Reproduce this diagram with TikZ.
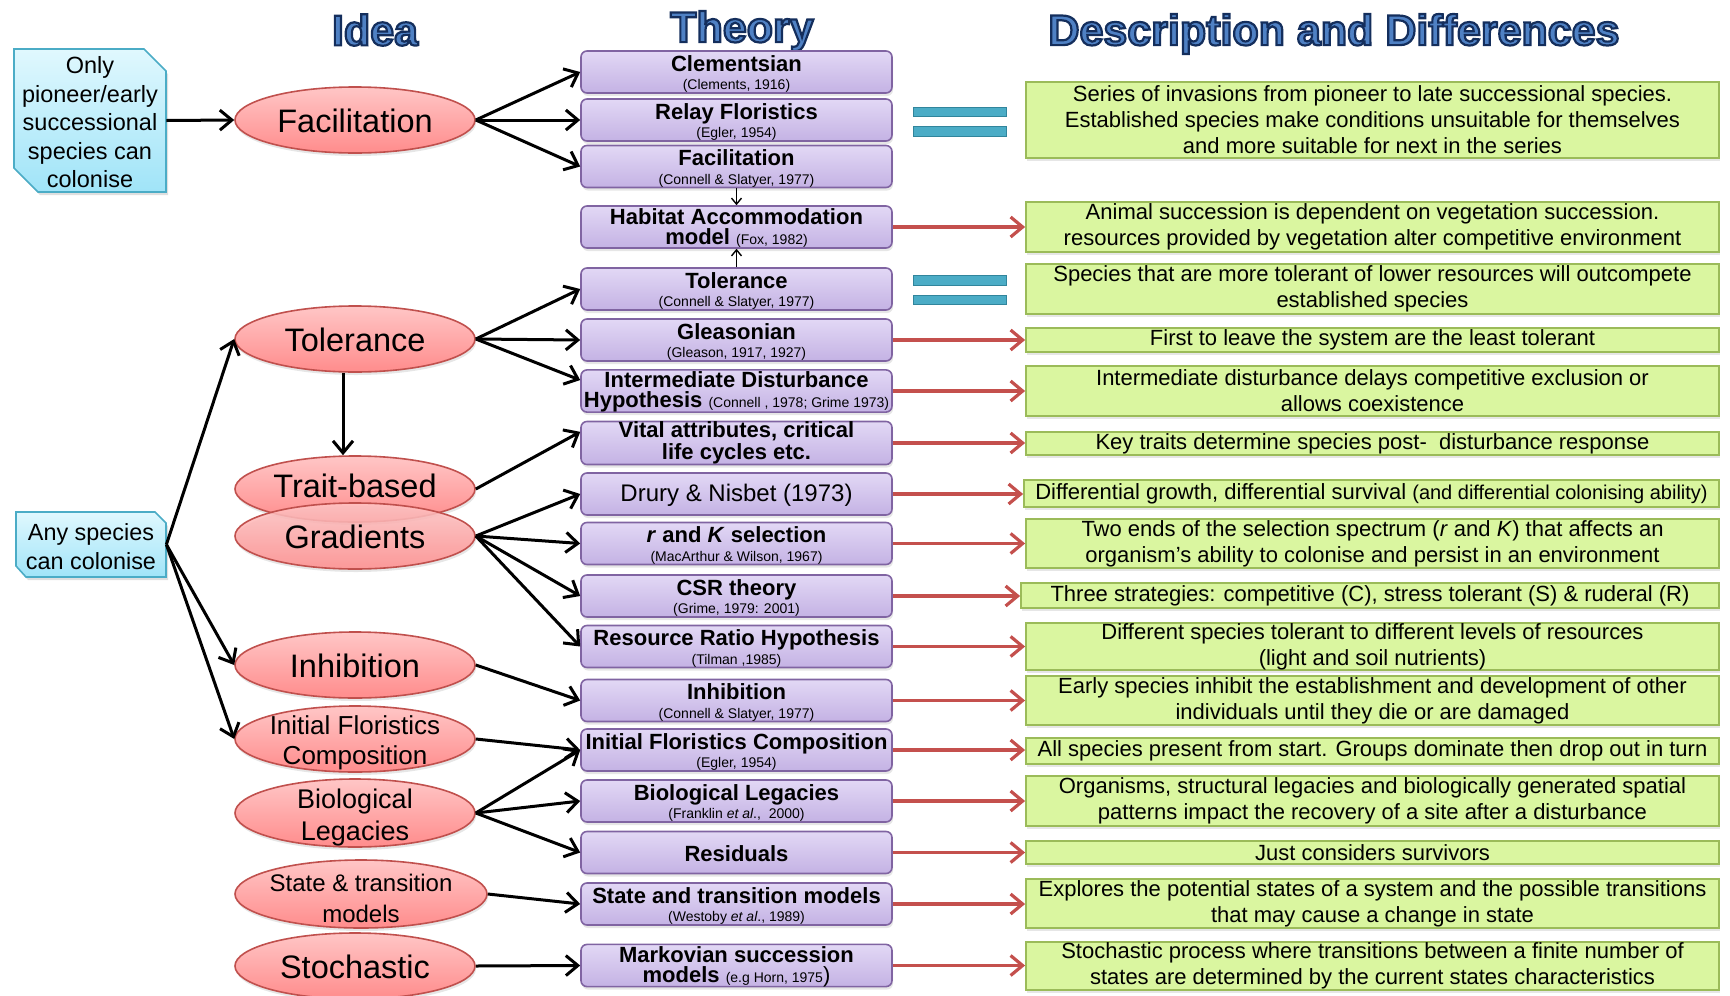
\documentclass[tikz,border=0pt]{standalone}
\usepackage{fontspec}
\setmainfont{Liberation Sans}
\usepackage{xcolor}
\usepackage{tikz}
\usetikzlibrary{arrows.meta, calc, shapes.geometric, shadows}

\definecolor{headblue}{RGB}{79,129,196}
\definecolor{thtop}{RGB}{226,216,245}
\definecolor{thbot}{RGB}{196,178,228}
\definecolor{thedge}{RGB}{128,100,162}
\definecolor{elltop}{RGB}{255,198,198}
\definecolor{ellbot}{RGB}{255,140,140}
\definecolor{elledge}{RGB}{192,80,77}
\definecolor{caltop}{RGB}{224,248,254}
\definecolor{calbot}{RGB}{160,228,248}
\definecolor{caledge}{RGB}{75,172,198}
\definecolor{descfill}{RGB}{218,246,160}
\definecolor{descedge}{RGB}{155,187,89}
\definecolor{eqfill}{RGB}{75,172,198}
\definecolor{eqedge}{RGB}{49,133,156}
\definecolor{redarr}{RGB}{196,80,77}

\newcommand\cit[1]{{\fontsize{7}{9}\selectfont\mdseries #1}}
\newcommand\thy[2]{\rule{0pt}{10pt}#1\\\cit{#2}}
\newcommand\ctr[2][-.42em]{\makebox[0pt]{\raisebox{#1}[0pt][0pt]{\begin{tabular}{@{}c@{}}#2\end{tabular}}}}
\newcommand\headtxt[1]{{\color{headblue}\special{pdf:literal direct 0.08 0.18 0.36 RG 1.1 w 2 Tr}#1\special{pdf:literal direct 0 Tr}}}

\begin{document}
\begin{tikzpicture}[x=0.5pt, y=-0.5pt,
    head/.style={font=\fontsize{21.5}{24}\selectfont\bfseries},
    callout/.style={draw=caledge, line width=0.8pt, top color=caltop, bottom color=calbot, drop shadow={opacity=0.25, shadow xshift=1pt, shadow yshift=-1.5pt}},
    calltext/.style={rectangle, inner sep=0pt},
    idea/.style={ellipse, draw=elledge, line width=0.8pt, top color=elltop, bottom color=ellbot, minimum width=120pt, minimum height=33pt, inner sep=0pt, font=\fontsize{16.25}{19}\selectfont, drop shadow={opacity=0.2, shadow xshift=0.5pt, shadow yshift=-1.5pt}},
    theory/.style={rectangle, rounded corners=3pt, draw=thedge, line width=0.8pt, top color=thtop, bottom color=thbot, minimum width=155.5pt, minimum height=21pt, inner sep=0pt, align=center, font=\fontsize{11}{9.4}\selectfont\bfseries, drop shadow={opacity=0.2, shadow xshift=0.5pt, shadow yshift=-1.5pt}},
    desc/.style={rectangle, draw=descedge, line width=0.9pt, fill=descfill, minimum width=346.5pt, inner sep=0pt, align=center, font=\fontsize{11}{13}\selectfont, drop shadow={opacity=0.2, shadow xshift=0.5pt, shadow yshift=-1.5pt}},
    eqbar/.style={draw=eqedge, line width=0.5pt, fill=eqfill},
    link/.style={line width=1.5pt, -{Straight Barb[length=6pt, width=10pt]}},
    thin link/.style={line width=0.7pt, -{Straight Barb[length=3pt, width=5pt]}},
    result/.style={draw=redarr, line width=1.6pt, -{Straight Barb[length=6pt, width=10pt]}}
]
    \useasboundingbox (0,0) rectangle (1730,996);

    \node[head] (hIdea) at (375,30) {\headtxt{Idea}};
    \node[head] (hTheory) at (742,31) {\headtxt{Theory}};
    \node[head] (hDesc) at (1334,34) {\headtxt{Description and Differences}};

    \draw[callout] (14,49) -- (144,49) -- (166,71) -- (166,192) -- (38,192) -- (14,168) -- cycle;
    \draw[callout] (16,512) -- (155,512) -- (166,523) -- (166,577) -- (26,577) -- (16,566) -- cycle;
    \node[calltext, minimum width=76pt, minimum height=71.5pt, font=\fontsize{11.75}{14.3}\selectfont] (pioneer) at (90,120.5) {\ctr[-.45em]{Only\\pioneer/early\\successional\\species can\\colonise}};
    \node[calltext, minimum width=75pt, minimum height=32.5pt, font=\fontsize{11.7}{14.3}\selectfont] (anysp) at (91,544.5) {\ctr[-.45em]{Any species\\can colonise}};

    \node[idea] (facil) at (355,120) {\ctr{Facilitation}};
    \node[idea] (toler) at (355,339) {\ctr{Tolerance}};
    \node[idea] (trait) at (355,489) {\ctr[-.3em]{Trait-based}};
    \node[idea, fill opacity=0.85, text opacity=1] (grad) at (355,536) {\ctr{Gradients}};
    \node[idea] (inhib) at (355,665) {\ctr{Inhibition}};
    \node[idea, font=\fontsize{13}{15}\selectfont] (ifc) at (355,739) {\ctr[-.4em]{Initial Floristics\\Composition}};
    \node[idea, minimum height=34pt, font=\fontsize{13.5}{16}\selectfont] (biol) at (355,813) {\ctr[-.45em]{Biological\\Legacies}};
    \node[idea, minimum width=126pt, minimum height=34pt, font=\fontsize{12}{15.5}\selectfont] (state) at (361,894) {\ctr[-.55em]{State \& transition\\models}};
    \node[idea] (stoch) at (355,966) {\ctr{Stochastic}};

    \node[theory] (tClem) at (736.5,72) {\thy{Clementsian}{(Clements, 1916)}};
    \node[theory] (tRelay) at (736.5,120) {\thy{Relay Floristics}{(Egler, 1954)}};
    \node[theory] (tFacil) at (736.5,166.5) {\thy{Facilitation}{(Connell \& Slatyer, 1977)}};
    \node[theory] (tHab) at (736.5,227) {\rule{0pt}{8.8pt}Habitat Accommodation\\[0.6pt]model \cit{(Fox, 1982)}};
    \node[theory] (tToler) at (736.5,289) {\thy{Tolerance}{(Connell \& Slatyer, 1977)}};
    \node[theory] (tGlea) at (736.5,340) {\thy{Gleasonian}{(Gleason, 1917, 1927)}};
    \node[theory] (tIDH) at (736.5,391) {\rule{0pt}{8.8pt}Intermediate Disturbance\\[0.6pt]Hypothesis \cit{(Connell , 1978; Grime 1973)}};
    \node[theory] (tVital) at (736.5,443) {Vital attributes, critical\\[0.6pt]life cycles etc.};
    \node[theory, font=\fontsize{12}{14}\selectfont] (tDrury) at (736.5,494) {\rule{0pt}{10pt}Drury \& Nisbet (1973)};
    \node[theory] (tRK) at (736.5,543.5) {\thy{\textit{r} and \textit{K} selection}{(MacArthur \& Wilson, 1967)}};
    \node[theory] (tCSR) at (736.5,596) {\thy{CSR theory}{(Grime, 1979: 2001)}};
    \node[theory] (tRRH) at (736.5,646.5) {\thy{Resource Ratio Hypothesis}{(Tilman ,1985)}};
    \node[theory] (tInhib) at (736.5,700.5) {\thy{Inhibition}{(Connell \& Slatyer, 1977)}};
    \node[theory] (tIFC) at (736.5,750) {\thy{Initial Floristics Composition}{(Egler, 1954)}};
    \node[theory] (tBiol) at (736.5,801) {\thy{Biological Legacies}{(Franklin \textit{et al}.,\ \ 2000)}};
    \node[theory] (tResid) at (736.5,852.5) {\rule{0pt}{9.5pt}Residuals};
    \node[theory] (tState) at (736.5,904) {\thy{State and transition models}{(Westoby \textit{et al}., 1989)}};
    \node[theory] (tMark) at (736.5,965.5) {\rule{0pt}{8.8pt}Markovian succession\\[0.6pt]models \cit{(e.g Horn, 1975}{\fontsize{11}{9}\selectfont\mdseries)}};

    \draw[eqbar] (913,107) rectangle (1006,116);
    \draw[eqbar] (913,126) rectangle (1006,136);
    \draw[eqbar] (913,275) rectangle (1006,285);
    \draw[eqbar] (913,295) rectangle (1006,304);

    \node[desc, minimum height=38pt] (dSeries) at (1372.5,120) {Series of invasions from pioneer to late successional species.\\Established species make conditions unsuitable for themselves\\and more suitable for next in the series};
    \node[desc, minimum height=25pt] (dHab) at (1372.5,227) {Animal succession is dependent on vegetation succession.\\resources provided by vegetation alter competitive environment};
    \node[desc, minimum height=25pt] (dToler) at (1372.5,289) {Species that are more tolerant of lower resources will outcompete\\established species};
    \node[desc, minimum height=12pt] (dGlea) at (1372.5,340) {First to leave the system are the least tolerant};
    \node[desc, minimum height=25pt] (dIDH) at (1372.5,391) {Intermediate disturbance delays competitive exclusion or\\allows coexistence};
    \node[desc, minimum height=11.5pt] (dVital) at (1372.5,443.5) {Key traits determine species post-\ \ disturbance response};
    \node[desc, minimum width=347.5pt, minimum height=13.5pt] (dDrury) at (1371.5,493.5) {Differential growth, differential survival {\fontsize{10}{12}\selectfont(and differential colonising ability)}};
    \node[desc, minimum height=24.5pt] (dRK) at (1372.5,543.5) {Two ends of the selection spectrum (\textit{r} and \textit{K}) that affects an\\organism’s ability to colonise and persist in an environment};
    \node[desc, minimum width=349pt, minimum height=12.5pt] (dCSR) at (1370,595.5) {Three strategies: competitive (C), stress tolerant (S) \& ruderal (R)};
    \node[desc, minimum height=23.5pt] (dRRH) at (1372.5,646.5) {Different species tolerant to different levels of resources\\(light and soil nutrients)};
    \node[desc, minimum height=24.5pt] (dInhib) at (1372.5,700.5) {Early species inhibit the establishment and development of other\\individuals until they die or are damaged};
    \node[desc, minimum height=13pt] (dIFC) at (1372.5,751) {All species present from start. Groups dominate then drop out in turn};
    \node[desc, minimum height=25pt] (dBiol) at (1372.5,801) {Organisms, structural legacies and biologically generated spatial\\patterns impact the recovery of a site after a disturbance};
    \node[desc, minimum height=11.5pt] (dResid) at (1372.5,852.5) {Just considers survivors};
    \node[desc, minimum height=24.5pt] (dState) at (1372.5,903.5) {Explores the potential states of a system and the possible transitions\\that may cause a change in state};
    \node[desc, minimum height=24pt] (dMark) at (1372.5,966) {Stochastic process where transitions between a finite number of\\states are determined by the current states characteristics};

    \draw[link] (pioneer.east) -- (facil.west);
    \foreach \t in {tClem, tRelay, tFacil} \draw[link] (facil.east) -- (\t.west);
    \foreach \e in {toler, inhib, ifc} \draw[link] (anysp.east) -- (\e.west);
    \draw[link] (toler.east) -- (tToler.west);
    \draw[link] (toler.east) -- (tGlea.west);
    \draw[link] (toler.east) -- ($(tIDH.north west)!.25!(tIDH.south west)$);
    \draw[link] ([xshift=-6pt]toler.south) -- ([xshift=-6pt]trait.north);
    \draw[link] (trait.east) -- ($(tVital.north west)!.25!(tVital.south west)$);
    \foreach \t in {tDrury, tRK, tCSR, tRRH} \draw[link] (grad.east) -- (\t.west);
    \draw[link] (inhib.east) -- (tInhib.west);
    \draw[link] (ifc.east) -- (tIFC.west);
    \foreach \t in {tIFC, tBiol, tResid} \draw[link] (biol.east) -- (\t.west);
    \draw[link] (state.east) -- (tState.west);
    \draw[link] (stoch.east) -- (tMark.west);
    \draw[thin link] (tFacil.south) -- (tHab.north);
    \draw[thin link] (tToler.north) -- (tHab.south);

    \foreach \t/\d in {tHab/dHab, tGlea/dGlea, tIDH/dIDH, tVital/dVital, tDrury/dDrury, tRK/dRK, tCSR/dCSR, tRRH/dRRH, tInhib/dInhib, tIFC/dIFC, tBiol/dBiol, tResid/dResid, tState/dState, tMark/dMark}
        \draw[result] (\t.east) -- (\t.east -| \d.west);
\end{tikzpicture}
\end{document}
